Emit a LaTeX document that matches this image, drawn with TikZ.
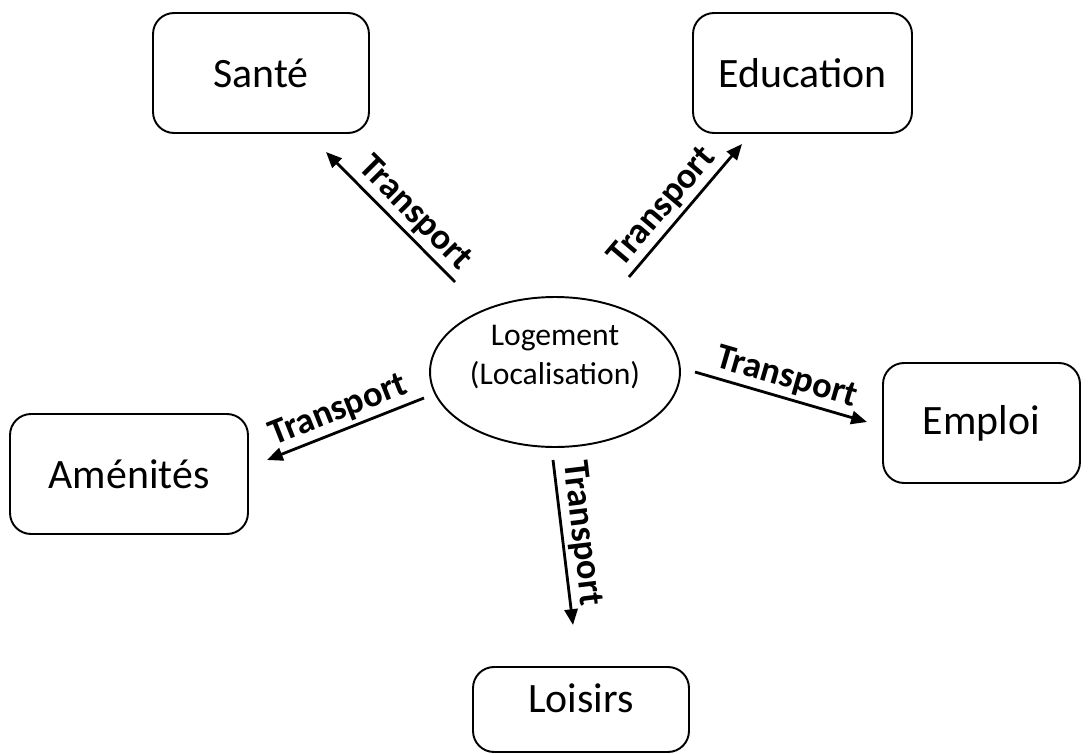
\documentclass[tikz,border=0pt]{standalone}
\usepackage{fontspec}
\setmainfont{Carlito}
\usetikzlibrary{shapes.geometric,arrows.meta}

\tikzset{
  boite/.style={draw, line width=1.1pt, rounded corners=0.42cm, minimum height=2.4cm,
    font=\fontsize{23.8}{28}\selectfont},
  fleche/.style={-{Triangle[length=9pt,width=7.5pt]}, line width=1.6pt},
  etiquette/.style={sloped, above, inner sep=2pt, font=\bfseries\fontsize{20.7}{24}\selectfont},
}

\begin{document}
\begin{tikzpicture}[x=0.02cm, y=-0.02cm]
    % Cadre de la figure
    \useasboundingbox (0,0) rectangle (1090,754);

    % Logement au centre
    \node[draw, ellipse, line width=1.1pt, minimum width=5cm, minimum height=3cm, inner sep=0pt,
      label={[font=\fontsize{18}{22.7}\selectfont, align=center, yshift=0.3cm]center:Logement\\(Localisation)}]
      (logement) at (555,372) {};

    % Les destinations
    \node[boite, minimum width=4.32cm] (sante) at (261,73) {Santé};
    \node[boite, minimum width=4.38cm] (education) at (802.5,73) {Education};
    \node[boite, minimum width=4.76cm] (amenites) at (129,474) {Aménités};
    \node[boite, minimum width=3.94cm] (emploi) at (981.5,423) {Emploi};
    \node[boite, minimum width=4.32cm, minimum height=1.7cm, text depth=0.46cm] (loisirs) at (581,709.5) {Loisirs};

    % Extremites des fleches
    \coordinate (depSante) at (455,282);   \coordinate (arrSante) at (326,152);
    \coordinate (depEduc) at (629,277);    \coordinate (arrEduc) at (742,144);
    \coordinate (depAmen) at (424,398);    \coordinate (arrAmen) at (267,460);
    \coordinate (depEmploi) at (695,372);  \coordinate (arrEmploi) at (867,422);
    \coordinate (depLoisirs) at (553,460); \coordinate (arrLoisirs) at (573,625);

    % Les fleches de transport
    \draw[fleche] (depSante) -- node[etiquette, pos=0.42] {Transport} (arrSante);
    \draw[fleche] (depEduc) -- node[etiquette, pos=0.43] {Transport} (arrEduc);
    \draw[fleche] (depAmen) -- node[etiquette] {Transport} (arrAmen);
    \draw[fleche] (depEmploi) -- node[etiquette] {Transport} (arrEmploi);
    \draw[fleche] (depLoisirs) -- node[etiquette, pos=0.46] {Transport} (arrLoisirs);

\end{tikzpicture}
\end{document}
